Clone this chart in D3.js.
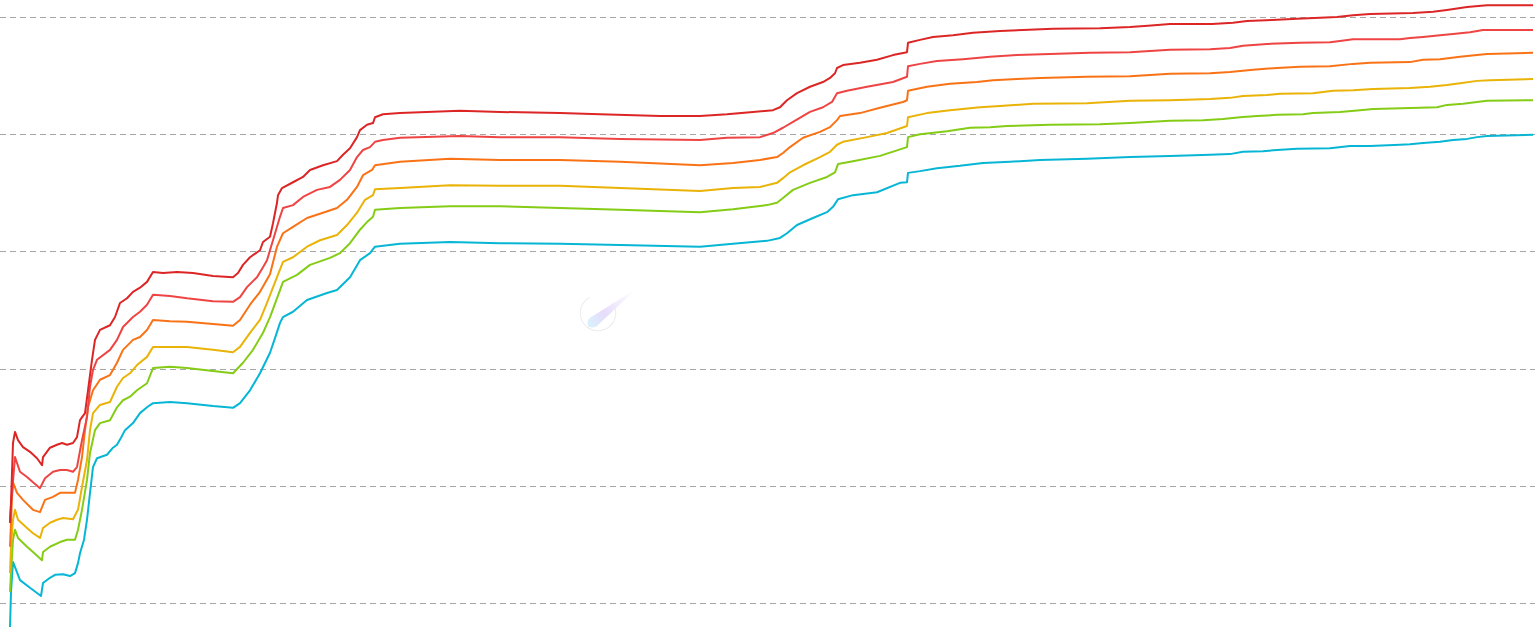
<!DOCTYPE html>
<html>
<head>
<meta charset="utf-8">
<script src="https://cdn.jsdelivr.net/npm/d3@7"></script>
<style>
  html, body { margin: 0; padding: 0; background: #ffffff; }
  svg { display: block; }
</style>
</head>
<body>
<svg id="chart" width="1540" height="633"></svg>
<script>
// ---- data (day index, value) ----
const dayCount = 1523;
const gridTicks = [0, 20, 40, 60, 80, 100];

const seriesNames = ["s1", "s2", "s3", "s4", "s5", "s6"];
const seriesColors = ["#dc2626", "#ef4444", "#f97316", "#eab308", "#84cc16", "#06b6d4"];

const s1 = [[0,13.7],[1,17.1],[3,27.3],[5,29.2],[8,27.8],[13,26.6],[20,25.8],[27,24.7],[32,23.5],[33,24.9],[40,26.5],[47,27.0],[52,27.3],[57,27.0],[63,27.3],[67,28.3],[70,31.2],[75,32.4],[78,36.3],[82,41.5],[85,44.9],[90,46.6],[100,47.4],[105,48.8],[110,51.2],[117,52.0],[123,53.1],[130,53.8],[137,54.8],[143,56.5],[153,56.3],[167,56.5],[183,56.3],[203,55.8],[223,55.6],[228,56.3],[233,57.7],[240,59.0],[250,60.2],[253,61.6],[260,62.5],[263,64.8],[267,68.3],[268,69.6],[272,70.8],[283,71.8],[293,72.7],[300,73.9],[313,74.7],[327,75.4],[333,76.5],[340,77.6],[347,79.5],[350,80.7],[357,81.6],[363,81.9],[365,82.9],[373,83.4],[390,83.6],[450,84.0],[490,83.8],[550,83.6],[590,83.4],[650,83.1],[690,83.1],[717,83.4],[743,83.8],[763,84.1],[770,84.6],[777,85.8],[787,87.0],[800,88.1],[813,88.9],[820,89.6],[825,90.4],[827,91.3],[833,91.8],[850,92.2],[867,92.7],[883,93.5],[897,94.0],[898,95.6],[910,96.1],[923,96.6],[943,96.9],[963,97.3],[990,97.6],[1013,97.8],[1043,98.0],[1090,98.1],[1120,98.3],[1138,98.5],[1160,98.8],[1202,98.8],[1223,99.0],[1237,99.3],[1262,99.5],[1287,99.7],[1327,100.0],[1343,100.3],[1360,100.5],[1403,100.7],[1423,100.9],[1437,101.2],[1457,101.7],[1477,102.0],[1523,102.0]];

const s2 = [[0,13.7],[1,16.7],[5,24.9],[10,22.4],[17,21.5],[23,20.6],[30,19.6],[35,21.3],[43,22.4],[50,22.7],[57,22.7],[63,22.4],[67,23.2],[72,27.8],[77,31.7],[80,36.9],[83,39.8],[87,41.5],[100,43.2],[107,44.9],[113,47.1],[123,48.8],[130,49.7],[137,50.9],[143,52.6],[160,52.4],[177,52.0],[203,51.5],[223,51.4],[230,52.2],[237,53.9],[247,55.6],[253,57.3],[257,58.5],[263,61.9],[270,65.9],[273,67.4],[283,67.9],[293,69.3],[307,70.5],[320,71.0],[330,72.2],[340,73.9],[347,76.1],[353,77.3],[360,77.8],[365,78.7],[373,79.0],[390,79.4],[450,79.7],[490,79.5],[550,79.5],[610,79.2],[690,79.0],[717,79.4],[750,79.5],[763,80.2],[773,81.1],[783,82.1],[800,83.8],[813,84.6],[822,85.5],[827,87.0],[837,87.4],[857,88.1],[883,88.9],[897,89.8],[898,91.6],[910,92.0],[927,92.5],[953,92.8],[980,93.2],[1007,93.5],[1040,93.7],[1080,93.9],[1120,94.0],[1160,94.4],[1200,94.5],[1220,94.7],[1233,95.1],[1257,95.4],[1290,95.6],[1320,95.7],[1330,95.9],[1343,96.2],[1390,96.2],[1400,96.4],[1413,96.6],[1430,96.9],[1443,97.1],[1460,97.4],[1473,97.8],[1523,97.8]];

const s3 = [[0,9.6],[1,13.7],[2,18.1],[3,20.6],[7,18.8],[13,17.6],[23,15.9],[30,15.5],[35,17.6],[43,18.1],[50,18.8],[65,18.8],[68,21.0],[72,24.9],[75,29.5],[78,33.4],[83,36.3],[90,38.1],[100,38.9],[107,41.0],[113,43.2],[123,44.9],[130,45.4],[137,46.6],[143,48.3],[160,48.1],[177,48.0],[203,47.6],[223,47.3],[230,48.3],[240,50.9],[250,53.1],[260,56.1],[267,60.8],[273,63.1],[283,64.2],[297,65.7],[313,66.6],[327,67.4],[337,68.8],[347,71.0],[353,73.0],[362,73.9],[365,74.7],[390,75.3],[440,75.8],[490,75.6],[550,75.6],[610,75.3],[690,74.7],[723,75.1],[750,75.6],[767,76.1],[773,76.8],[780,77.8],[793,79.4],[810,80.4],[820,81.2],[827,82.4],[830,83.1],[850,83.6],[870,84.5],[893,85.5],[897,85.8],[898,87.4],[917,88.1],[940,88.6],[967,88.9],[983,89.2],[1007,89.4],[1030,89.6],[1077,89.8],[1120,89.9],[1160,90.3],[1200,90.4],[1220,90.6],[1243,91.0],[1267,91.3],[1290,91.5],[1320,91.6],[1343,92.0],[1360,92.2],[1400,92.3],[1413,92.7],[1430,92.8],[1450,93.2],[1467,93.5],[1477,93.7],[1523,93.9]];

const s4 = [[0,5.1],[1,9.6],[3,14.2],[5,15.9],[8,14.2],[17,12.8],[23,11.9],[30,11.1],[33,12.8],[40,13.7],[47,14.2],[53,14.5],[63,14.3],[68,15.9],[72,19.8],[77,24.4],[80,29.5],[83,32.4],[90,33.8],[100,34.3],[107,36.9],[113,38.4],[120,39.2],[127,40.6],[137,42.0],[143,43.7],[160,43.7],[177,43.7],[203,43.2],[223,42.8],[230,43.7],[240,46.1],[250,48.3],[257,51.2],[267,55.6],[273,58.2],[283,59.0],[297,60.8],[310,61.9],[327,62.8],[337,64.5],[347,66.6],[355,68.8],[363,69.6],[365,70.6],[390,70.8],[440,71.3],[490,71.2],[550,71.2],[610,70.8],[690,70.3],[723,70.8],[750,71.0],[767,71.7],[773,72.5],[780,73.5],[793,74.7],[810,76.1],[820,77.0],[827,78.2],[833,78.7],[857,79.5],[877,80.2],[897,81.4],[898,82.9],[917,83.6],[940,84.1],[970,84.6],[990,84.8],[1023,85.2],[1077,85.3],[1120,85.7],[1160,85.8],[1200,86.0],[1220,86.2],[1233,86.5],[1257,86.7],[1270,86.9],[1303,87.0],[1323,87.4],[1343,87.5],[1363,87.7],[1400,87.9],[1420,88.1],[1437,88.4],[1450,88.7],[1467,89.1],[1480,89.2],[1523,89.4]];

const s5 = [[0,1.9],[1,5.1],[3,10.8],[5,12.5],[8,11.1],[17,9.6],[23,8.7],[32,7.3],[33,8.7],[40,9.6],[50,10.4],[57,10.8],[65,10.8],[68,12.5],[72,15.9],[77,21.0],[80,25.6],[85,29.5],[90,30.7],[100,31.2],[107,33.4],[113,34.6],[120,35.2],[127,36.3],[137,37.5],[143,40.1],[160,40.3],[177,40.1],[203,39.6],[223,39.2],[233,41.0],[243,43.2],[253,46.1],[260,48.8],[270,53.4],[273,54.8],[287,56.0],[300,57.7],[320,58.9],[330,59.7],[340,61.4],[350,63.7],[357,65.0],[363,65.9],[365,67.1],[390,67.4],[440,67.7],[490,67.7],[550,67.4],[610,67.1],[690,66.7],[723,67.2],[757,67.9],[767,68.3],[773,69.1],[783,70.5],[800,71.7],[817,72.7],[825,73.5],[828,74.9],[843,75.4],[870,76.3],[897,77.8],[898,79.5],[910,80.0],[937,80.5],[960,81.1],[980,81.2],[997,81.4],[1040,81.6],[1090,81.7],[1120,81.9],[1160,82.3],[1193,82.4],[1213,82.6],[1230,82.9],[1247,83.1],[1267,83.3],[1293,83.4],[1303,83.6],[1330,83.8],[1350,84.1],[1363,84.3],[1410,84.5],[1427,84.6],[1437,85.0],[1453,85.2],[1467,85.5],[1477,85.7],[1523,85.8]];

const s6 = [[0,-4.1],[1,1.9],[3,7.0],[10,3.9],[20,2.6],[31,1.2],[33,3.4],[40,4.3],[45,4.8],[53,4.9],[60,4.6],[65,5.1],[68,6.8],[70,8.5],[74,10.8],[77,14.2],[80,18.8],[83,23.2],[87,24.7],[97,25.3],[103,26.5],[107,27.0],[111,28.2],[115,29.5],[123,30.7],[130,32.4],[137,33.4],[143,34.1],[160,34.3],[177,34.1],[203,33.6],[223,33.3],[230,34.1],[240,36.3],[250,39.2],[260,42.7],[265,45.2],[270,47.8],[273,48.8],[283,49.7],[297,51.7],[317,52.9],[327,53.4],[340,55.6],[350,58.5],[360,59.7],[365,60.8],[390,61.3],[440,61.6],[490,61.4],[550,61.3],[610,61.1],[690,60.8],[723,61.3],[757,61.8],[770,62.3],[777,63.1],[787,64.5],[803,65.7],[817,66.7],[823,67.6],[828,68.9],[843,69.6],[867,70.1],[890,71.7],[897,71.8],[898,73.4],[910,73.7],[927,74.2],[950,74.6],[973,75.1],[1000,75.3],[1030,75.6],[1077,75.8],[1120,76.1],[1160,76.3],[1200,76.5],[1220,76.6],[1233,77.0],[1253,77.1],[1267,77.3],[1287,77.5],[1320,77.6],[1340,78.0],[1360,78.0],[1390,78.2],[1400,78.3],[1413,78.5],[1430,78.7],[1443,79.0],[1457,79.2],[1467,79.5],[1477,79.7],[1523,79.9]];

const allSeries = [s1, s2, s3, s4, s5, s6];

// ---- chart ----
const svg = d3.select("#chart");
const W = 1540, H = 633;
const x = d3.scaleLinear().domain([0, dayCount]).range([10, 1533]);
const y = d3.scaleLinear().domain([0, 100]).range([603, 17]);

// gridlines
const grid = svg.append("g").attr("class", "grid");
grid.selectAll("line").data(gridTicks).join("line")
  .attr("x1", 0).attr("x2", 1535)
  .attr("y1", d => Math.round(y(d)) + 0.5)
  .attr("y2", d => Math.round(y(d)) + 0.5)
  .attr("stroke", "#a6a6a6").attr("stroke-width", 1)
  .attr("stroke-dasharray", "6,4");

// watermark
const defs = svg.append("defs");
const grad = defs.append("linearGradient").attr("id", "wmGrad")
  .attr("x1", "0%").attr("y1", "0%").attr("x2", "100%").attr("y2", "0%");
grad.append("stop").attr("offset", "0%").attr("stop-color", "#d7f2fb");
grad.append("stop").attr("offset", "35%").attr("stop-color", "#e6dcfb");
grad.append("stop").attr("offset", "100%").attr("stop-color", "#ffffff");
const wm = svg.append("g").attr("class", "watermark");
const arc = d3.arc().innerRadius(17.3).outerRadius(18.3)
  .startAngle(Math.PI * 0.3).endAngle(Math.PI * 1.85);
wm.append("path").attr("d", arc()).attr("transform", "translate(598,313)")
  .attr("fill", "#ececf0");
wm.append("g").attr("transform", "translate(588,326) rotate(-37)")
  .append("path")
  .attr("d", "M0,0 C2,-5 6,-6 10,-5 L58,-1 L58,0 L10,5 C6,6 2,5 0,0 Z")
  .attr("fill", "url(#wmGrad)");

// lines
const line = d3.line().x(d => x(d[0])).y(d => y(d[1]));
const order = [5, 4, 3, 2, 1, 0];
svg.append("g").attr("class", "series")
  .selectAll("path").data(order).join("path")
  .attr("d", i => line(allSeries[i]))
  .attr("fill", "none")
  .attr("stroke", i => seriesColors[i])
  .attr("stroke-width", 2)
  .attr("stroke-linejoin", "round")
  .attr("stroke-linecap", "butt");
</script>
</body>
</html>
